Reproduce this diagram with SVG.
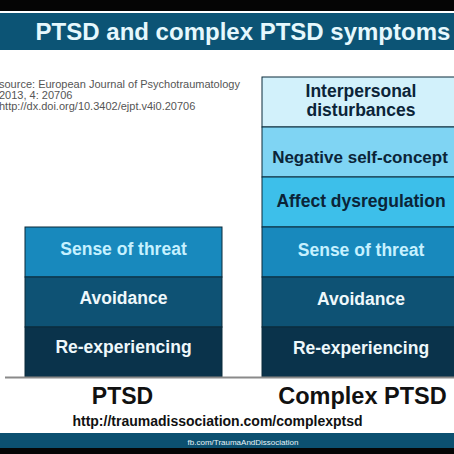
<svg xmlns="http://www.w3.org/2000/svg" width="454" height="454" viewBox="0 0 454 454">
<style>
.b{font-family:"Liberation Sans",Arial,sans-serif;font-weight:bold;text-anchor:middle}
.seg{stroke:#0a2a3a;stroke-width:1}
.dk{fill:#0b2438;font-size:17.5px}
.lt{fill:#c6f1ff;font-size:17.5px}
.wh{fill:#eef8fb;font-size:17.5px}
.src{font-family:"Liberation Sans",Arial,sans-serif;font-size:11px;fill:#555}
</style>
<rect width="454" height="454" fill="#ffffff"/>
<rect x="0" y="0" width="454" height="11" fill="#050505"/>
<rect x="0" y="13" width="454" height="37" fill="#0c5475"/>
<text class="b" x="243" y="40" font-size="24" fill="#e6f8fd">PTSD and complex PTSD symptoms</text>
<text class="src" x="-1" y="88">source: European Journal of Psychotraumatology</text>
<text class="src" x="-1" y="99">2013, 4: 20706</text>
<text class="src" x="-1" y="110">http://dx.doi.org/10.3402/ejpt.v4i0.20706</text>
<g id="ptsd">
<g id="ptsd-threat"><rect class="seg" x="25" y="227" width="197" height="50" fill="#1889bd"/><text class="b lt" x="123.5" y="255">Sense of threat</text></g>
<g id="ptsd-avoid"><rect class="seg" x="25" y="277" width="197" height="50" fill="#0e5274"/><text class="b wh" x="123.5" y="304">Avoidance</text></g>
<g id="ptsd-reexp"><rect class="seg" x="25" y="327" width="197" height="50" fill="#0a334b"/><text class="b wh" x="123.5" y="353">Re-experiencing</text></g>
</g>
<g id="cptsd">
<g id="c-inter"><rect class="seg" x="262" y="77" width="200" height="50" fill="#d2f1fb"/><text class="b dk" x="361" y="97">Interpersonal</text><text class="b dk" x="361" y="116">disturbances</text></g>
<g id="c-neg"><rect class="seg" x="262" y="127" width="200" height="50" fill="#7fd4f3"/><text class="b dk" x="360" y="163" style="font-size:17px">Negative self-concept</text></g>
<g id="c-affect"><rect class="seg" x="262" y="177" width="200" height="50" fill="#3dbfea"/><text class="b dk" x="361" y="207">Affect dysregulation</text></g>
<g id="c-threat"><rect class="seg" x="262" y="227" width="200" height="50" fill="#1889bd"/><text class="b lt" x="361" y="256">Sense of threat</text></g>
<g id="c-avoid"><rect class="seg" x="262" y="277" width="200" height="50" fill="#0e5274"/><text class="b wh" x="361" y="305">Avoidance</text></g>
<g id="c-reexp"><rect class="seg" x="262" y="327" width="200" height="50" fill="#0a334b"/><text class="b wh" x="361" y="354">Re-experiencing</text></g>
</g>
<g id="connectors">
<line x1="5" y1="377.5" x2="454" y2="377.5" stroke="#8a8a8a" stroke-width="2"/>
</g>
<text class="b" x="122.5" y="404" font-size="23" fill="#111">PTSD</text>
<text class="b" x="362.5" y="404" font-size="23.5" fill="#111">Complex PTSD</text>
<text class="b" x="217.5" y="426" font-size="14" fill="#111">http://traumadissociation.com/complexptsd</text>
<rect x="0" y="433" width="454" height="15" fill="#0c5070"/>
<rect x="0" y="448" width="454" height="6" fill="#050505"/>
<text x="243" y="445" font-family="'Liberation Sans',Arial,sans-serif" font-size="8" fill="#e8f4f8" text-anchor="middle">fb.com/TraumaAndDissociation</text>
</svg>
